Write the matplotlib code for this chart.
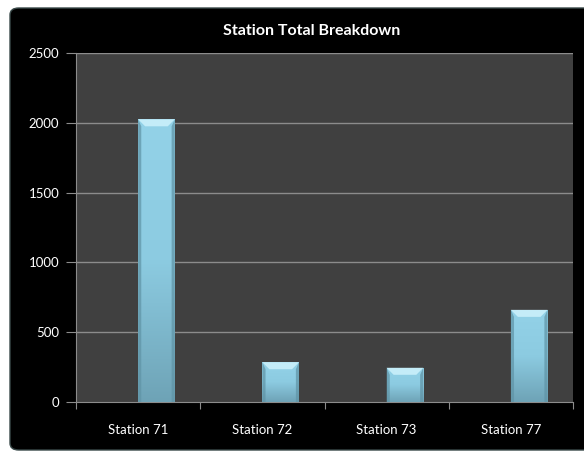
import numpy as np
import matplotlib
matplotlib.use("Agg")
import matplotlib.pyplot as plt
from matplotlib.patches import FancyBboxPatch, Polygon
from matplotlib.colors import LinearSegmentedColormap

stations = ["Station 71", "Station 72", "Station 73", "Station 77"]
totals = [2025, 285, 245, 660]
y_ticks = [0, 500, 1000, 1500, 2000, 2500]

plt.rcParams["font.family"] = ["Lato", "DejaVu Sans"]

fig = plt.figure(figsize=(5.84, 4.53), dpi=100, facecolor="white")

# black rounded panel behind the chart
panel = FancyBboxPatch((10 / 584, 3 / 453), 590 / 584, 442 / 453,
                       boxstyle="round,pad=0,rounding_size=0.015",
                       transform=fig.transFigure, facecolor="black",
                       edgecolor="#3a4a4a", linewidth=1.0, zorder=-5)
fig.add_artist(panel)

ax = fig.add_axes([76 / 584, 51 / 453, 497 / 584, 349 / 453])
ax.set_zorder(1)
ax.set_facecolor("#404040")
ax.set_xlim(0, len(stations))
ax.set_ylim(0, 2500)

grid_col = "#8c8c8c"
for spine in ["top", "right"]:
    ax.spines[spine].set_visible(False)
ax.spines["left"].set_color(grid_col)
ax.spines["bottom"].set_color(grid_col)

ax.set_yticks(y_ticks)
ax.set_yticklabels([str(v) for v in y_ticks], color="white", fontsize=9.5)
ax.tick_params(axis="y", length=7, color=grid_col, pad=5)
for v in y_ticks[1:]:
    ax.axhline(v, color=grid_col, linewidth=1.0, zorder=1)

ax.set_xticks(range(len(stations) + 1))
ax.set_xticklabels([])
ax.tick_params(axis="x", which="major", length=5, color=grid_col)
ax.set_xticks([i + 0.5 for i in range(len(stations))], minor=True)
ax.set_xticklabels(stations, minor=True, color="white", fontsize=9.5)
ax.tick_params(axis="x", which="minor", length=0, pad=16)

bar_w = 0.295
bars = ax.bar([i + 0.5 for i in range(len(stations))], totals, width=bar_w,
              align="edge", color="#86c6dc", edgecolor="none", zorder=2)

# vertical shading inside each bar
cmap = LinearSegmentedColormap.from_list("bar", ["#6ea3b6", "#8ccbe1", "#93d2e8"])
grad = np.linspace(0, 1, 256).reshape(-1, 1)
fig.canvas.draw()
inv = ax.transData.inverted()
px_x = abs(inv.transform((7, 0))[0] - inv.transform((0, 0))[0])
px_y = abs(inv.transform((0, 7))[1] - inv.transform((0, 0))[1])

for b in bars:
    x0, w, h = b.get_x(), b.get_width(), b.get_height()
    im = ax.imshow(grad, cmap=cmap, origin="lower", aspect="auto",
                   extent=[x0, x0 + w, 0, h], zorder=3)
    im.set_clip_path(b)
    # bevel: top face
    top = Polygon([(x0, h), (x0 + w, h), (x0 + w - px_x, h - px_y),
                   (x0 + px_x, h - px_y)], closed=True,
                  facecolor="#c4ecf8", edgecolor="none", zorder=4)
    ax.add_patch(top)
    # bevel: side faces
    side_l = Polygon([(x0, h), (x0 + px_x * 0.45, h - px_y), (x0 + px_x * 0.45, 0),
                      (x0, 0)], closed=True, facecolor="#5f93a5",
                     edgecolor="none", alpha=0.7, zorder=4)
    side_r = Polygon([(x0 + w, h), (x0 + w - px_x * 0.45, h - px_y),
                      (x0 + w - px_x * 0.45, 0), (x0 + w, 0)], closed=True,
                     facecolor="#5f93a5", edgecolor="none", alpha=0.7, zorder=4)
    ax.add_patch(side_l)
    ax.add_patch(side_r)

ax.set_xlim(0, len(stations))
ax.set_ylim(0, 2500)

fig.text(0.533, 0.932, "Station Total Breakdown", color="white",
         fontsize=11.5, fontweight="bold", ha="center", va="center")

fig.savefig("out.png", dpi=100, facecolor="white")
